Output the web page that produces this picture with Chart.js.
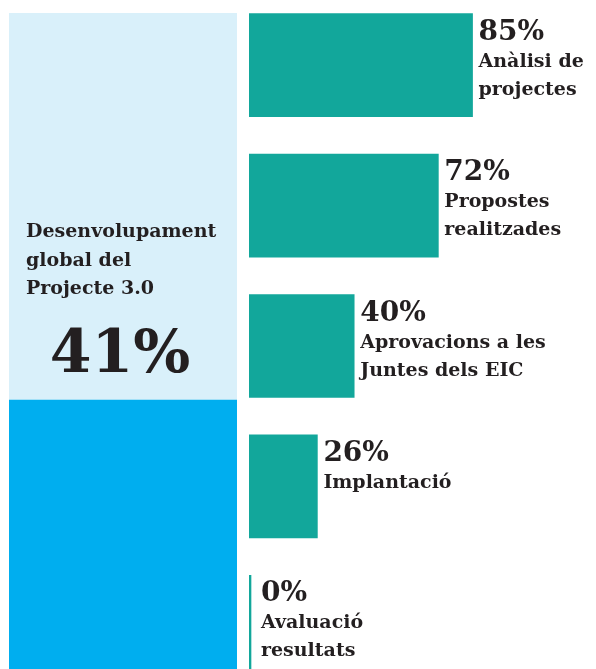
<!DOCTYPE html>
<html>
<head>
<meta charset="utf-8">
<script src="https://cdn.jsdelivr.net/npm/chart.js@4.4.1/dist/chart.umd.min.js"></script>
<style>
  html, body { margin: 0; padding: 0; background: #fff; }
  body { width: 596px; height: 669px; overflow: hidden; position: relative; }
  #globalChart { position: absolute; left: 0; top: 0; }
  #phaseChart { position: absolute; left: 249px; top: -5px; }
</style>
</head>
<body>
<canvas id="globalChart" width="249" height="669"></canvas>
<canvas id="phaseChart" width="347" height="702"></canvas>
<script>
// ===== DADES =====
const phaseLabels = [
  ['Anàlisi de', 'projectes'],
  ['Propostes', 'realitzades'],
  ['Aprovacions a les', 'Juntes dels EIC'],
  ['Implantació'],
  ['Avaluació', 'resultats']
];
const phaseValues = [85, 72, 40, 26, 0];

const globalLabel = ['Desenvolupament', 'global del', 'Projecte 3.0'];
const globalDone = 41;
const globalPending = 100 - globalDone;

const TEXT = '#231f20';
const SERIF = '"DejaVu Serif", "Liberation Serif", serif';

// ===== GRÀFIC GLOBAL (barra apilada) =====
const globalText = {
  id: 'globalText',
  afterDatasetsDraw(chart) {
    const { ctx, chartArea } = chart;
    const top = chartArea.top;
    ctx.save();
    ctx.fillStyle = TEXT;
    ctx.font = 'bold 19px ' + SERIF;
    ctx.textAlign = 'left';
    ctx.textBaseline = 'alphabetic';
    globalLabel.forEach((line, i) => {
      ctx.fillText(line, chartArea.left + 17, top + 224 + i * 28.5);
    });
    ctx.font = 'bold 60px ' + SERIF;
    ctx.textAlign = 'center';
    ctx.fillText(globalDone + '%', (chartArea.left + chartArea.right) / 2 - 3, top + 359);
    ctx.restore();
  }
};

new Chart(document.getElementById('globalChart'), {
  type: 'bar',
  data: {
    labels: ['Global'],
    datasets: [
      { data: [globalDone], backgroundColor: '#00aeef' },
      { data: [globalPending], backgroundColor: '#d9f0fa' }
    ]
  },
  options: {
    responsive: false,
    animation: false,
    layout: { padding: { left: 9, right: 12, top: 13, bottom: 0 } },
    barPercentage: 1,
    categoryPercentage: 1,
    plugins: { legend: { display: false }, tooltip: { enabled: false } },
    scales: {
      x: { stacked: true, display: false },
      y: { stacked: true, display: false, min: 0, max: 100 }
    }
  },
  plugins: [globalText]
});

// ===== GRÀFIC DE FASES (barres horitzontals) =====
const phaseText = {
  id: 'phaseText',
  afterDatasetsDraw(chart) {
    const { ctx, chartArea } = chart;
    const meta = chart.getDatasetMeta(0);
    ctx.save();
    ctx.fillStyle = TEXT;
    ctx.textAlign = 'left';
    ctx.textBaseline = 'alphabetic';
    meta.data.forEach((bar, i) => {
      const x = Math.max(bar.x + 6, chartArea.left + 12);
      const top = bar.y - bar.height / 2;
      ctx.font = 'bold 28px ' + SERIF;
      ctx.fillText(phaseValues[i] + '%', x, top + 26);
      ctx.font = 'bold 19px ' + SERIF;
      phaseLabels[i].forEach((line, j) => {
        ctx.fillText(line, x, top + 53 + j * 28);
      });
    });
    ctx.restore();
  }
};

new Chart(document.getElementById('phaseChart'), {
  type: 'bar',
  data: {
    labels: phaseLabels.map(l => l.join(' ')),
    datasets: [{
      data: phaseValues,
      backgroundColor: '#12a79b',
      barThickness: 103,
      minBarLength: 2
    }]
  },
  options: {
    indexAxis: 'y',
    responsive: false,
    animation: false,
    layout: { padding: { left: 0, right: 84, top: 0, bottom: 0 } },
    plugins: { legend: { display: false }, tooltip: { enabled: false } },
    scales: {
      x: { display: false, min: 0, max: 100 },
      y: { display: false, offset: true }
    }
  },
  plugins: [phaseText]
});
</script>
</body>
</html>
